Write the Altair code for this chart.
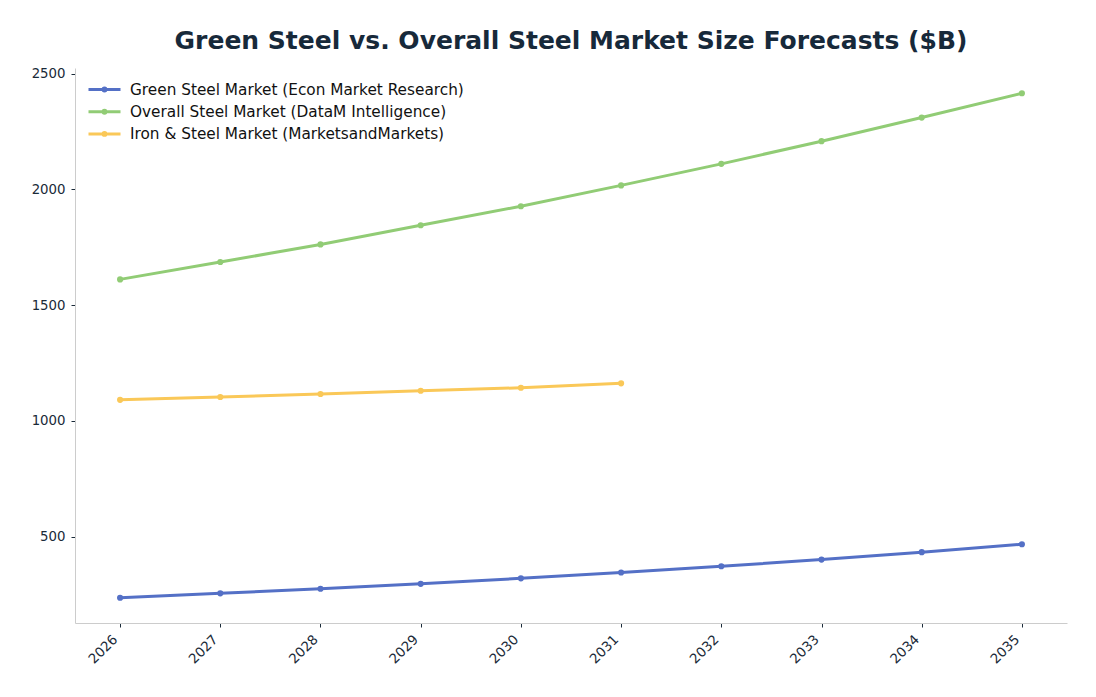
import altair as alt
import pandas as pd

years = [2026, 2027, 2028, 2029, 2030, 2031, 2032, 2033, 2034, 2035]
green_steel = [236, 255, 275, 296, 320, 345, 372, 401, 433, 467]
overall_steel = [1611, 1686, 1762, 1845, 1927, 2017, 2110, 2208, 2310, 2415]
iron_steel = [1091, 1103, 1116, 1130, 1143, 1162]

s_green = "Green Steel Market (Econ Market Research)"
s_overall = "Overall Steel Market (DataM Intelligence)"
s_iron = "Iron & Steel Market (MarketsandMarkets)"
series = [s_green, s_overall, s_iron]
colors = ["#5470c6", "#91cc75", "#fac858"]

rows = []
for name, vals in [(s_green, green_steel), (s_overall, overall_steel), (s_iron, iron_steel)]:
    for y, v in zip(years, vals):
        rows.append({"year": str(y), "value": v, "series": name})
df = pd.DataFrame(rows)

font = "DejaVu Sans"
dark = "#1a2a38"

color = alt.Color(
    "series:N",
    scale=alt.Scale(domain=series, range=colors),
    sort=series,
    legend=alt.Legend(
        title=None,
        orient="none",
        legendX=12,
        legendY=12,
        symbolType="M -1 0 L 3 0 M 0.82 0 A 0.18 0.18 0 1 1 1.18 0 A 0.18 0.18 0 1 1 0.82 0",
        symbolSize=256,
        symbolStrokeWidth=3,
        labelFont=font,
        labelFontSize=15.3,
        labelColor="#111111",
        labelOffset=24,
        rowPadding=4.2,
        labelLimit=500,
    ),
)

x = alt.X(
    "year:O",
    title=None,
    scale=alt.Scale(type="point", padding=0.45),
    axis=alt.Axis(
        labelAngle=-45,
        labelAlign="right",
        labelBaseline="middle",
        labelOffset=-5,
        labelFont=font,
        labelFontSize=13.5,
        labelColor=dark,
        labelPadding=10,
        tickColor=dark,
        tickSize=4,
        domainColor="#cccccc",
        grid=False,
    ),
)
y = alt.Y(
    "value:Q",
    title=None,
    scale=alt.Scale(domain=[127, 2524], nice=False, zero=False),
    axis=alt.Axis(
        values=[500, 1000, 1500, 2000, 2500],
        format="d",
        labelFont=font,
        labelFontSize=13.3,
        labelColor=dark,
        labelPadding=6,
        tickColor=dark,
        tickSize=4,
        domainColor="#cccccc",
        grid=False,
    ),
)

base = alt.Chart(df)
lines = base.mark_line(strokeWidth=3).encode(x=x, y=y, color=color)
points = base.mark_circle(size=38, opacity=1).encode(
    x=x, y=y,
    color=alt.Color("series:N", scale=alt.Scale(domain=series, range=colors), legend=None),
)

chart = (
    alt.layer(lines, points)
    .properties(
        width=992,
        height=555,
        padding={"left": 67, "top": 60, "right": 21, "bottom": 66},
        autosize=alt.AutoSizeParams(type="none"),
        background="white",
        title=alt.Title(
            "Green Steel vs. Overall Steel Market Size Forecasts ($B)",
            font=font,
            fontSize=25,
            fontWeight="bold",
            color="#17293a",
            anchor="middle",
            offset=13,
        ),
    )
    .configure_view(strokeWidth=0, stroke=None)
)

chart.save("out.html", embed_options={"renderer": "svg", "actions": False})
